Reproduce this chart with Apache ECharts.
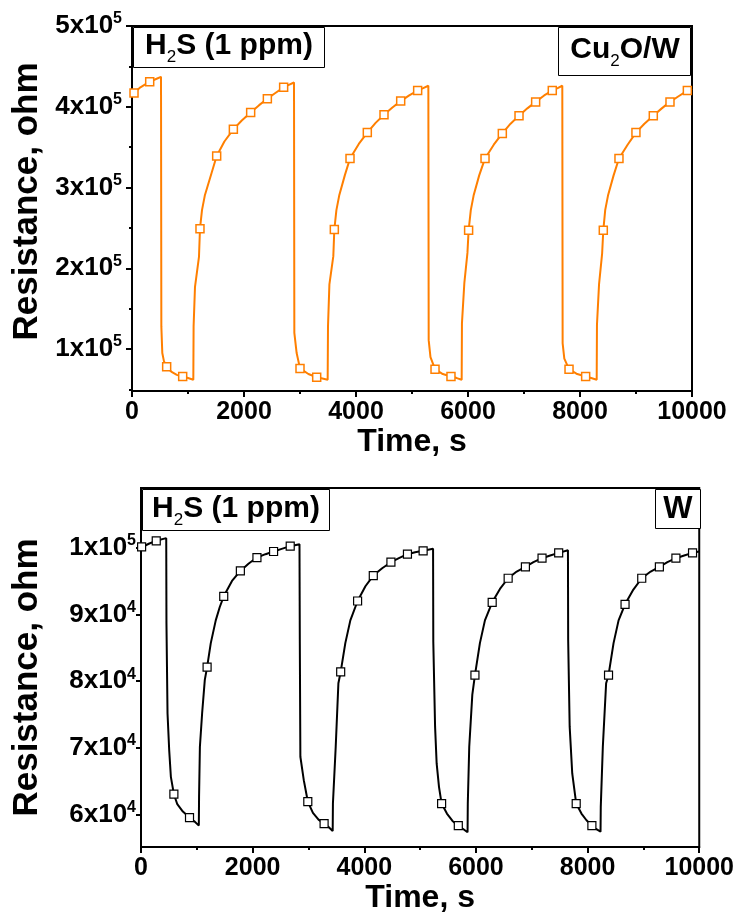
<!DOCTYPE html>
<html><head><meta charset="utf-8">
<script src="https://cdn.jsdelivr.net/npm/echarts@6/dist/echarts.min.js"></script>
<style>html,body{margin:0;padding:0;background:#fff}#c{width:737px;height:918px}</style>
</head><body><div id="c"></div>
<script>
// ---------- data ----------
const xTicks = [0, 2000, 4000, 6000, 8000, 10000];
const topYTicks = [100000, 200000, 300000, 400000, 500000];
const topYMinor = [50000, 150000, 250000, 350000, 450000];
const botYTicks = [60000, 70000, 80000, 90000, 100000];

// Cu2O/W sensor (top panel)
const cuTime = [0, 36, 150, 316, 450, 518, 524, 541, 570, 619, 700, 800, 905, 1000, 1095,
  1100, 1125, 1196, 1214, 1250, 1300, 1421, 1512, 1650, 1810, 1960, 2119, 2270, 2417, 2560, 2708, 2800, 2893,
  2899, 2940, 3000, 3150, 3298, 3400, 3494,
  3500, 3525, 3595, 3613, 3650, 3700, 3800, 3893, 4050, 4202, 4350, 4500, 4650, 4798, 4950, 5101, 5200, 5292,
  5298, 5330, 5411, 5550, 5696, 5800, 5887,
  5892, 5935, 5990, 6011, 6050, 6100, 6200, 6304, 6460, 6613, 6760, 6911, 7060, 7208, 7360, 7505, 7600, 7684,
  7690, 7720, 7804, 7950, 8101, 8200, 8298,
  8303, 8340, 8395, 8416, 8450, 8500, 8600, 8696, 8850, 8999, 9150, 9309, 9460, 9607, 9760, 9917, 10000];
const cuRes = [415000, 417000, 424000, 431000, 435000, 437000, 128000, 95000, 85000, 78000, 72000, 68000, 66000, 64000, 62000,
  128000, 177000, 214000, 249000, 272000, 290000, 318000, 339000, 357000, 372000, 383000, 393000, 402000, 410000, 417000, 424000, 427000, 430000,
  120000, 95000, 76000, 69000, 65000, 63500, 62000,
  128000, 180000, 215000, 248000, 272000, 290000, 315000, 336000, 354000, 368000, 380000, 390000, 399000, 407000, 414000, 420000, 423000, 426000,
  111000, 90000, 75000, 69000, 66000, 64000, 62000,
  132000, 182000, 219000, 247000, 272000, 290000, 315000, 336000, 353000, 367000, 379000, 389000, 398000, 406000, 414000, 420000, 423000, 426000,
  107000, 88000, 75000, 69000, 66000, 64000, 62000,
  130000, 180000, 218000, 247000, 272000, 290000, 315000, 336000, 353000, 368000, 379000, 389000, 398000, 406000, 413000, 420000, 422000];
const cuMarkTime = [36, 316, 619, 905, 1214, 1512, 1810, 2119, 2417, 2708, 3000, 3298, 3613, 3893, 4202, 4500, 4798, 5101,
  5411, 5696, 6011, 6304, 6613, 6911, 7208, 7505, 7804, 8101, 8416, 8696, 8999, 9309, 9607, 9917];
const cuMarkRes = [417000, 431000, 78000, 66000, 249000, 339000, 372000, 393000, 410000, 424000, 76000, 65000, 248000, 336000, 368000, 390000, 407000, 420000,
  75000, 66000, 247000, 336000, 367000, 389000, 406000, 420000, 75000, 66000, 247000, 336000, 368000, 389000, 406000, 420000];

// W sensor (bottom panel)
const wTime = [0, 11, 150, 273, 452,
  456, 475, 505, 535, 589, 650, 750, 869, 960, 1036,
  1040, 1055, 1095, 1143, 1184, 1250, 1339, 1411, 1482, 1630, 1780, 1930, 2077, 2230, 2375, 2520, 2673, 2839,
  2845, 2855, 2916, 2988, 3080, 3180, 3280, 3360, 3434,
  3438, 3488, 3536, 3577, 3660, 3750, 3880, 4020, 4161, 4320, 4477, 4620, 4773, 4910, 5054, 5232,
  5236, 5268, 5296, 5338, 5385, 5480, 5580, 5684, 5770, 5850,
  5854, 5880, 5935, 5982, 6071, 6161, 6291, 6430, 6577, 6730, 6886, 7030, 7184, 7330, 7482, 7648,
  7652, 7679, 7725, 7796, 7890, 7980, 8077, 8150, 8232,
  8236, 8273, 8332, 8375, 8465, 8555, 8671, 8820, 8970, 9130, 9286, 9430, 9582, 9730, 9880, 10000];
const wRes = [100000, 100100, 100600, 101000, 101400,
  88700, 75200, 69700, 65700, 63100, 61600, 60500, 59600, 59000, 58400,
  62700, 70200, 75200, 80200, 82100, 85700, 89100, 91100, 92700, 95000, 96500, 97600, 98500, 99000, 99400, 99800, 100200, 100500,
  85700, 68700, 65200, 62000, 60300, 59300, 58700, 58200, 57600,
  61700, 70200, 79700, 81400, 85700, 89100, 92000, 94200, 95800, 96900, 97800, 98400, 99000, 99300, 99500, 99800,
  85900, 73200, 67700, 64200, 61700, 60200, 59100, 58400, 57900, 57400,
  61700, 70200, 78000, 80900, 85700, 89100, 91800, 93800, 95400, 96400, 97100, 97800, 98400, 98800, 99200, 99600,
  86200, 73200, 66200, 61700, 60200, 59200, 58400, 57900, 57500,
  61200, 70200, 79700, 80900, 85700, 89100, 91500, 93700, 95400, 96400, 97100, 97800, 98400, 98800, 99200, 99400];
const wMarkTime = [11, 273, 589, 869, 1184, 1482, 1780, 2077, 2375, 2673, 2988, 3280, 3577, 3880, 4161, 4477, 4773, 5054,
  5385, 5684, 5982, 6291, 6577, 6886, 7184, 7482, 7796, 8077, 8375, 8671, 8970, 9286, 9582, 9880];
const wMarkRes = [100100, 101000, 63100, 59600, 82100, 92700, 96500, 98500, 99400, 100200, 62000, 58700, 81400, 92000, 95800, 97800, 99000, 99500,
  61700, 58400, 80900, 91800, 95400, 97100, 98400, 99200, 61700, 58400, 80900, 91500, 95400, 97100, 98400, 99200];

const topLabel = 'H₂S (1 ppm)';
const topTag = 'Cu₂O/W';
const botTag = 'W';

// ---------- chart ----------
const FF = "'Liberation Sans', Arial, sans-serif";
const ORANGE = '#ff7f00';
const pairs = (a, b) => a.map((t, i) => [t, b[i]]);

function sci(v) {
  const e = Math.floor(Math.log10(v) + 1e-9);
  const m = Math.round(v / Math.pow(10, e));
  return '{b|' + m + 'x10}{s|' + e + '}';
}
const labelRich = {
  b: { fontSize: 26, fontWeight: 'bold', fontFamily: FF, color: '#000', lineHeight: 30 },
  s: { fontSize: 16, fontWeight: 'bold', fontFamily: FF, color: '#000', lineHeight: 16, verticalAlign: 'top' }
};
const boxRich = {
  a: { fontSize: 30, fontWeight: 'bold', fontFamily: FF, color: '#000', lineHeight: 40 },
  s: { fontSize: 17, fontWeight: 'normal', fontFamily: FF, color: '#000', lineHeight: 17, verticalAlign: 'bottom' }
};
function richTag(str) {
  const parts = str.split('₂');
  return parts.map(p => '{a|' + p + '}').join('{s|2}');
}

function xAxisDef(grid, gap) {
  return {
    gridIndex: grid, type: 'value', min: 0, max: 10000, interval: 2000,
    axisLine: { lineStyle: { color: '#000', width: 2 } },
    axisTick: { inside: false, length: 6, lineStyle: { color: '#000', width: 2 } },
    minorTick: { show: true, splitNumber: 2, length: 3, lineStyle: { color: '#000', width: 2 } },
    splitLine: { show: false },
    axisLabel: { fontSize: 25, fontWeight: 'bold', fontFamily: FF, color: '#000', margin: 9,
      customValues: xTicks, formatter: v => String(v) },
    name: 'Time, s', nameLocation: 'middle', nameGap: gap,
    nameTextStyle: { fontSize: 32, fontWeight: 'bold', fontFamily: FF, color: '#000' }
  };
}

const chart = echarts.init(document.getElementById('c'), null, { renderer: 'canvas' });
chart.setOption({
  animation: false,
  backgroundColor: '#fff',
  grid: [
    { left: 132, top: 26, width: 560, height: 365, show: true, borderColor: '#000', borderWidth: 2, backgroundColor: 'transparent' },
    { left: 141, top: 488, width: 561, height: 359, show: true, borderColor: '#000', borderWidth: 2, backgroundColor: 'transparent' }
  ],
  xAxis: [xAxisDef(0, 33), xAxisDef(1, 31)],
  yAxis: [
    {
      gridIndex: 0, type: 'value', min: 48000, max: 500000, position: 'left',
      axisLine: { show: true, lineStyle: { color: '#000', width: 2 } },
      axisTick: { show: true, inside: false, length: 6, customValues: topYTicks, lineStyle: { color: '#000', width: 2 } },
      axisLabel: { customValues: topYTicks, formatter: sci, rich: labelRich, margin: 10 },
      splitLine: { show: false },
      name: 'Resistance, ohm', nameLocation: 'middle', nameGap: 86,
      nameTextStyle: { fontSize: 35, fontWeight: 'bold', fontFamily: FF, color: '#000', padding: [0, 0, 0, 14] }
    },
    {
      gridIndex: 0, type: 'value', min: 48000, max: 500000, position: 'left', offset: 0,
      axisLine: { show: false },
      axisTick: { show: true, inside: false, length: 3, customValues: topYMinor, lineStyle: { color: '#000', width: 2 } },
      axisLabel: { show: false },
      splitLine: { show: false }
    },
    {
      gridIndex: 1, type: 'value', min: 55200, max: 108900, position: 'left',
      axisLine: { show: true, lineStyle: { color: '#000', width: 2 } },
      axisTick: { show: true, inside: false, length: 5, customValues: botYTicks, lineStyle: { color: '#000', width: 2 } },
      axisLabel: { customValues: botYTicks, formatter: sci, rich: labelRich, margin: 5 },
      splitLine: { show: false },
      name: 'Resistance, ohm', nameLocation: 'middle', nameGap: 96,
      nameTextStyle: { fontSize: 35, fontWeight: 'bold', fontFamily: FF, color: '#000', padding: [0, 20, 0, 0] }
    }
  ],
  series: [
    { type: 'line', xAxisIndex: 0, yAxisIndex: 0, data: pairs(cuTime, cuRes), symbol: 'none', showSymbol: false,
      lineStyle: { color: ORANGE, width: 2 }, z: 2 },
    { type: 'scatter', xAxisIndex: 0, yAxisIndex: 0, data: pairs(cuMarkTime, cuMarkRes), symbol: 'rect', symbolSize: 8,
      itemStyle: { color: '#fff', borderColor: ORANGE, borderWidth: 1.5, opacity: 1 }, z: 3 },
    { type: 'line', xAxisIndex: 1, yAxisIndex: 2, data: pairs(wTime, wRes), symbol: 'none', showSymbol: false,
      lineStyle: { color: '#000', width: 2 }, z: 2 },
    { type: 'scatter', xAxisIndex: 1, yAxisIndex: 2, data: pairs(wMarkTime, wMarkRes), symbol: 'rect', symbolSize: 8,
      itemStyle: { color: '#fff', borderColor: '#000', borderWidth: 1.2, opacity: 1 }, z: 3 }
  ],
  graphic: [
    { type: 'rect', shape: { x: 133.5, y: 27.5, width: 191, height: 40 }, style: { fill: '#fff', stroke: '#000', lineWidth: 1 }, z: 100 },
    { type: 'text', x: 229, y: 46, z: 101, style: { text: richTag(topLabel), rich: boxRich, textAlign: 'center', textVerticalAlign: 'middle', align: 'center', verticalAlign: 'middle' } },
    { type: 'rect', shape: { x: 558.5, y: 27.5, width: 132, height: 48 }, style: { fill: '#fff', stroke: '#000', lineWidth: 1 }, z: 100 },
    { type: 'text', x: 625, y: 50, z: 101, style: { text: richTag(topTag), rich: boxRich, textAlign: 'center', textVerticalAlign: 'middle', align: 'center', verticalAlign: 'middle' } },
    { type: 'rect', shape: { x: 142.5, y: 489.5, width: 187, height: 41 }, style: { fill: '#fff', stroke: '#000', lineWidth: 1 }, z: 100 },
    { type: 'text', x: 236, y: 509, z: 101, style: { text: richTag(topLabel), rich: boxRich, textAlign: 'center', textVerticalAlign: 'middle', align: 'center', verticalAlign: 'middle' } },
    { type: 'rect', shape: { x: 655.5, y: 489.5, width: 45, height: 39 }, style: { fill: '#fff', stroke: '#000', lineWidth: 1 }, z: 100 },
    { type: 'text', x: 678, y: 509, z: 101, style: { text: richTag(botTag), rich: { a: { fontSize: 31, fontWeight: 'bold', fontFamily: FF, color: '#000' } }, textAlign: 'center', textVerticalAlign: 'middle', align: 'center', verticalAlign: 'middle' } }
  ]
});
</script>
</body></html>
